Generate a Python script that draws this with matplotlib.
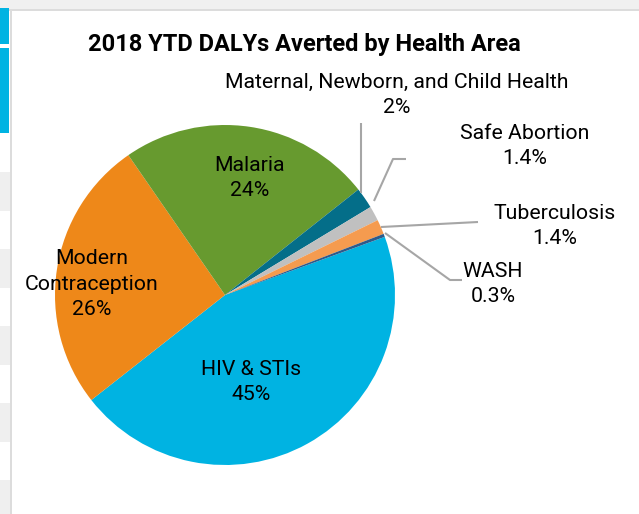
import matplotlib
matplotlib.use("Agg")
import matplotlib.pyplot as plt
from matplotlib.patches import Rectangle

plt.rcParams['font.family'] = ['Roboto', 'DejaVu Sans']

# data, in pie order (clockwise)
areas = ["HIV & STIs", "Modern\nContraception", "Malaria",
         "Maternal, Newborn, and Child Health", "Safe Abortion",
         "Tuberculosis", "WASH"]
shares = [45, 26, 24, 2, 1.4, 1.4, 0.3]
share_labels = ["45%", "26%", "24%", "2%", "1.4%", "1.4%", "0.3%"]
colors = ["#00B3E2", "#EE8819", "#679A2F", "#046E89", "#C0C0C0", "#F59B4F", "#2D5A8A"]

W, H = 639, 514
fig = plt.figure(figsize=(W / 100, H / 100), dpi=100)
ax = fig.add_axes([0, 0, 1, 1])

def Y(y):
    # screen y (top down) -> axes y
    return H - y

# surrounding page chrome
ax.add_patch(Rectangle((0, Y(9)), W, 9, color="#f0f0f0", lw=0))
ax.add_patch(Rectangle((0, Y(11)), W, 2, color="#dcdcdc", lw=0))
ax.add_patch(Rectangle((10, 0), 2, Y(9), color="#dcdcdc", lw=0))
for y0 in [172, 249, 326, 403, 480]:
    ax.add_patch(Rectangle((0, Y(y0 + 39)), 10, 39, color="#efefef", lw=0))
ax.add_patch(Rectangle((0, Y(44)), 9, 36, color="#00B3E2", lw=0))
ax.add_patch(Rectangle((0, Y(133)), 9, 85, color="#00B3E2", lw=0))

cx, cy, r = 225, 295, 170
ax.pie(shares, colors=colors, startangle=20, counterclock=False,
       center=(cx, Y(cy)), radius=r, frame=True,
       wedgeprops=dict(linewidth=0))
ax.set_xlim(0, W)
ax.set_ylim(0, H)
ax.set_aspect("equal")
ax.axis("off")

fs = 15.3
ls = 1.45
# labels inside the big slices
inside = {0: (251, 382), 1: (92, 284), 2: (250, 178)}
for i, (x, y) in inside.items():
    ax.text(x, Y(y), areas[i] + "\n" + share_labels[i], ha="center", va="center",
            fontsize=fs, linespacing=ls, color="#000000")

# outside labels with leader lines
outside = {
    3: ((397, 95), [(361, 193), (361, 123)]),
    4: ((525, 146), [(374, 201), (393, 159), (406, 159)]),
    5: ((555, 226), [(381, 227), (478, 222)]),
    6: ((493, 284), [(385, 233), (450, 280), (462, 280)]),
}
for i, ((x, y), pts) in outside.items():
    ax.text(x, Y(y), areas[i] + "\n" + share_labels[i], ha="center", va="center",
            fontsize=fs, linespacing=ls, color="#000000")
    ax.plot([p[0] for p in pts], [Y(p[1]) for p in pts], color="#a6a6a6", lw=1.5,
            solid_capstyle="butt")

ax.text(304, Y(45), "2018 YTD DALYs Averted by Health Area", ha="center", va="center",
        fontsize=17, fontweight="bold", color="#000000")

fig.savefig("out.png", dpi=100)
